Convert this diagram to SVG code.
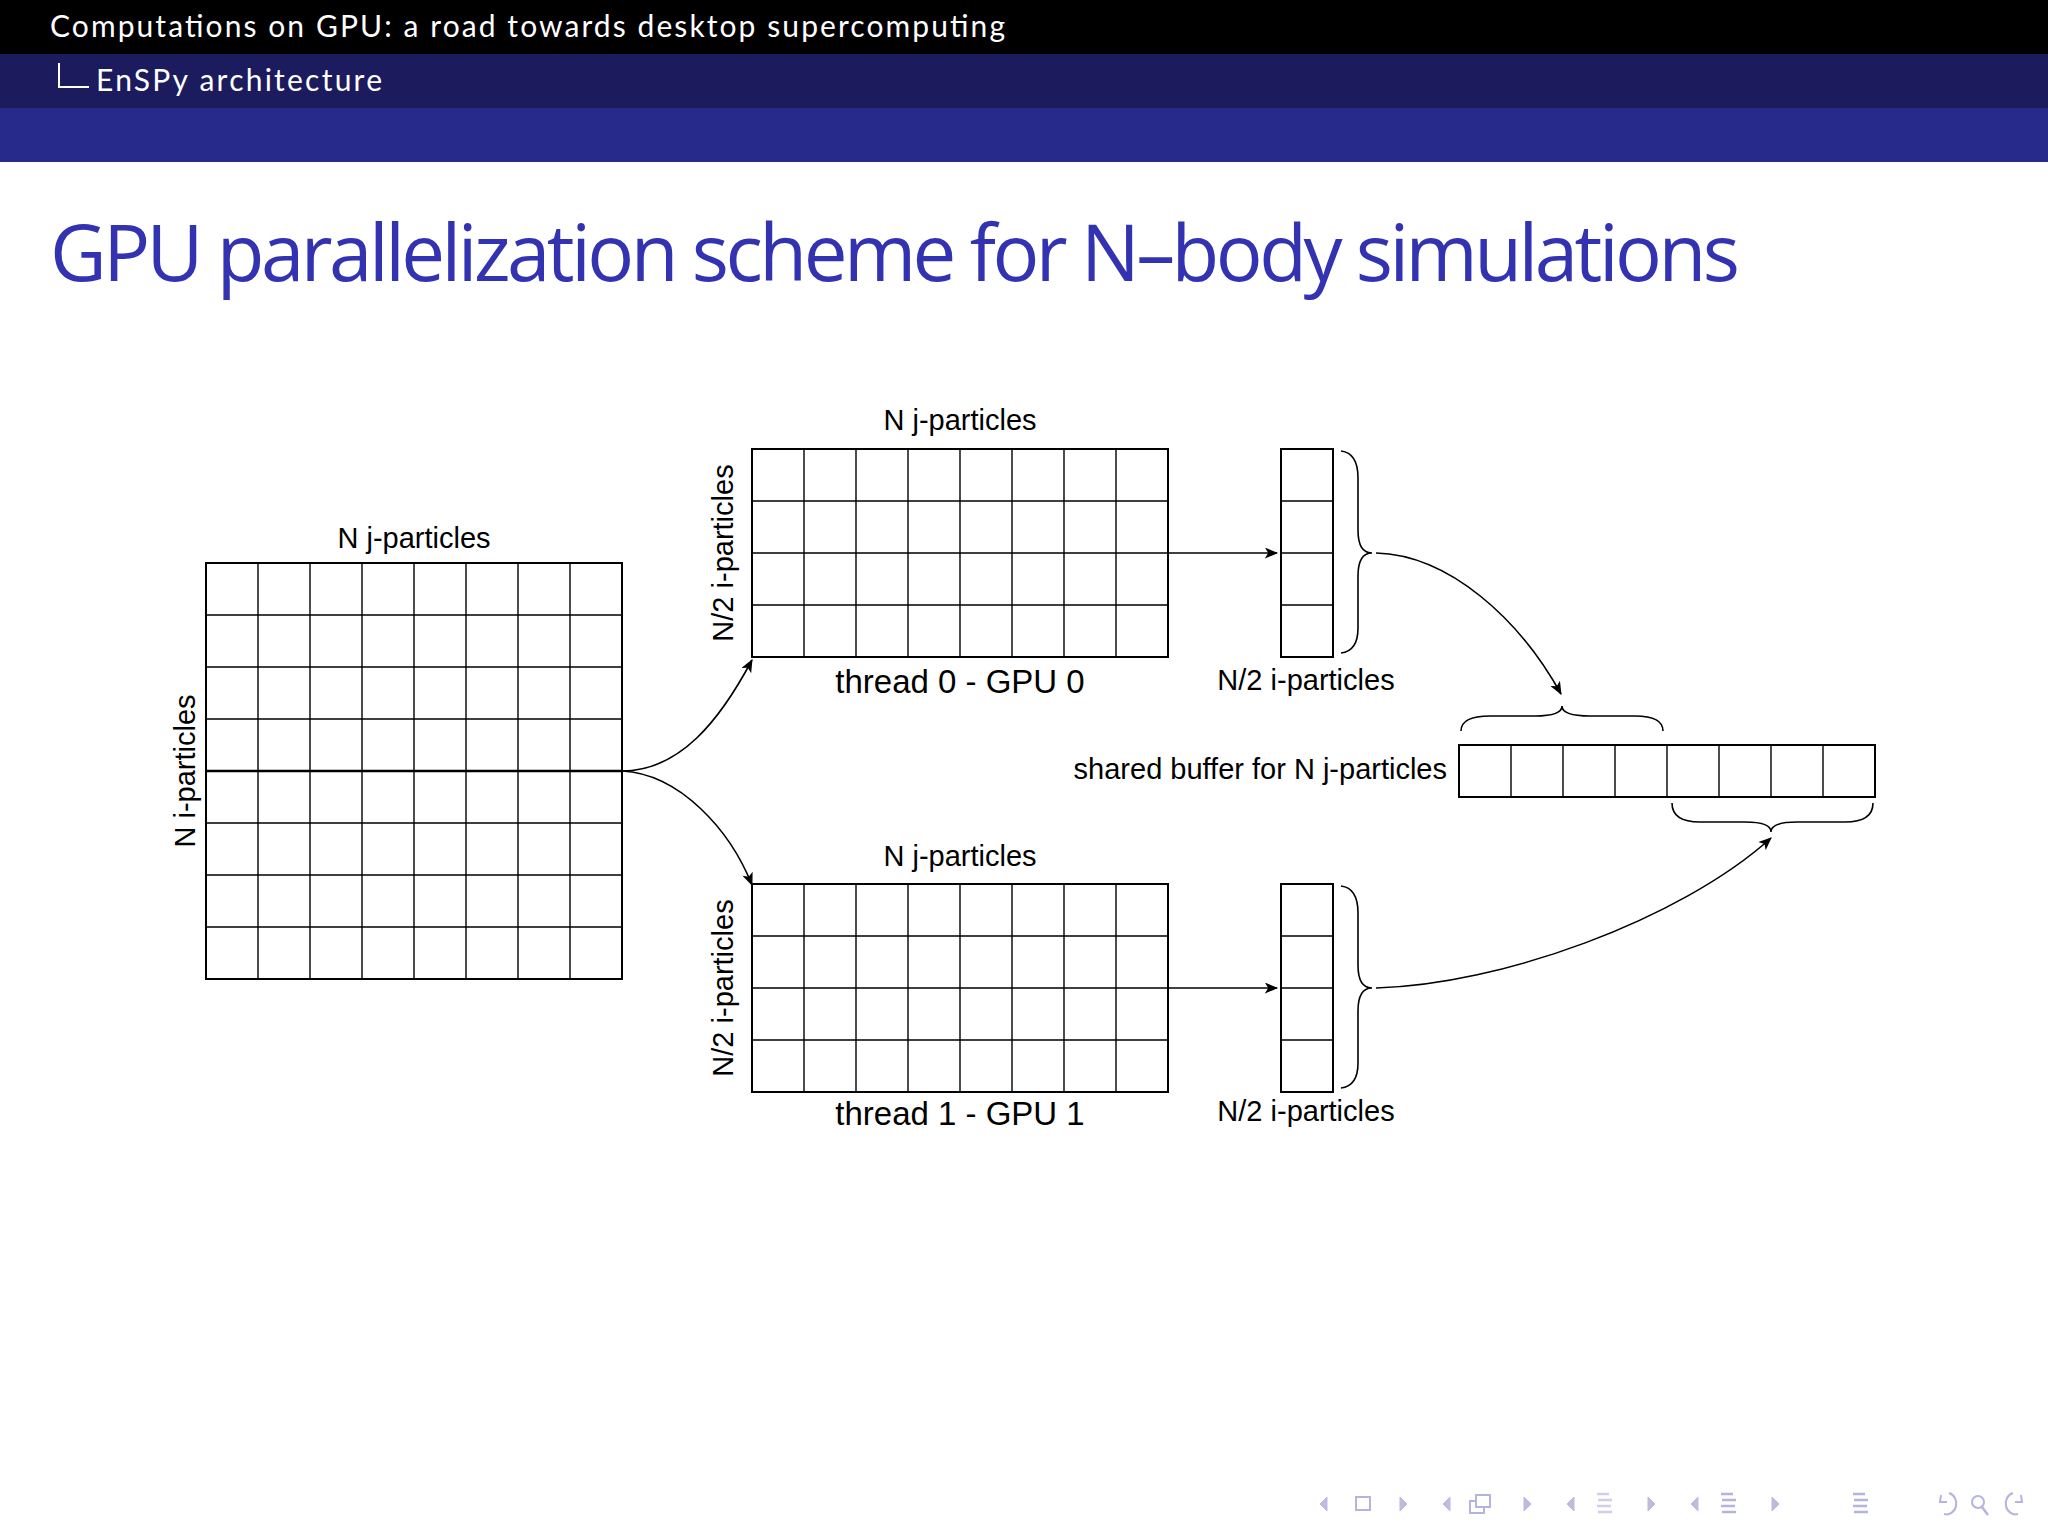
<svg xmlns="http://www.w3.org/2000/svg" width="2048" height="1536" viewBox="0 0 2048 1536">
<defs>
<marker id="ah" viewBox="0 0 12 10" refX="11" refY="5" markerWidth="14" markerHeight="11" markerUnits="userSpaceOnUse" orient="auto"><path d="M0,0 L12,5 L0,10 L3,5 z" fill="#000"/></marker>
</defs>
<style>
.lbl{font-family:"Liberation Sans",Arial,sans-serif;font-size:29px;fill:#000}
.big{font-family:"Liberation Sans",Arial,sans-serif;font-size:33px;fill:#000}
.g{fill:none;stroke:#000;stroke-width:2}
.gl{fill:none;stroke:#000;stroke-width:1.4}
.c{fill:none;stroke:#000;stroke-width:1.6}
.br{fill:none;stroke:#000;stroke-width:1.6}
.nav{fill:#b3b0dc;stroke:#b3b0dc}
</style>
<rect width="2048" height="1536" fill="#fff"/>
<g id="header">
<rect x="0" y="0" width="2048" height="54" fill="#000"/>
<rect x="0" y="54" width="2048" height="54" fill="#1b1b5e"/>
<rect x="0" y="108" width="2048" height="54" fill="#272a8a"/>
<text x="50" y="37" font-family="Lato,'Open Sans',sans-serif" font-size="30" fill="#fff" textLength="955">Computations on GPU: a road towards desktop supercomputing</text>
<path d="M59,63 L59,87 L89,87" fill="none" stroke="#fff" stroke-width="2"/>
<text x="96" y="91" font-family="Lato,'Open Sans',sans-serif" font-size="30" fill="#fff" textLength="286">EnSPy architecture</text>
<text x="50" y="281" font-family="'Open Sans',Lato,sans-serif" font-size="78" fill="#3333b2" textLength="1690" lengthAdjust="spacing">GPU parallelization scheme for N–body simulations</text>
</g>
<g id="full-matrix">
<rect class="g" x="206" y="563" width="416" height="416"/>
<path class="gl" d="M258,563V979M310,563V979M362,563V979M414,563V979M466,563V979M518,563V979M570,563V979M206,615H622M206,667H622M206,719H622M206,823H622M206,875H622M206,927H622"/>
<line x1="206" y1="771" x2="622" y2="771" stroke="#000" stroke-width="2.6"/>
<text class="lbl" x="414" y="548" text-anchor="middle">N j-particles</text>
<text class="lbl" transform="translate(195,771) rotate(-90)" text-anchor="middle">N i-particles</text>
</g>
<g id="gpu0">
<rect class="g" x="752" y="449" width="416" height="208"/>
<path class="gl" d="M804,449V657M856,449V657M908,449V657M960,449V657M1012,449V657M1064,449V657M1116,449V657M752,501H1168M752,553H1168M752,605H1168"/>
<text class="lbl" x="960" y="430" text-anchor="middle">N j-particles</text>
<text class="lbl" transform="translate(733,553) rotate(-90)" text-anchor="middle">N/2 i-particles</text>
<text class="big" x="960" y="693" text-anchor="middle">thread 0 - GPU 0</text>
</g>
<g id="gpu1">
<rect class="g" x="752" y="884" width="416" height="208"/>
<path class="gl" d="M804,884V1092M856,884V1092M908,884V1092M960,884V1092M1012,884V1092M1064,884V1092M1116,884V1092M752,936H1168M752,988H1168M752,1040H1168"/>
<text class="lbl" x="960" y="866" text-anchor="middle">N j-particles</text>
<text class="lbl" transform="translate(733,988) rotate(-90)" text-anchor="middle">N/2 i-particles</text>
<text class="big" x="960" y="1125" text-anchor="middle">thread 1 - GPU 1</text>
</g>
<g id="col0">
<rect class="g" x="1281" y="449" width="52" height="208"/>
<path class="gl" d="M1281,501H1333M1281,553H1333M1281,605H1333"/>
<path class="br" d="M1341,451 Q1358,453 1358,478 L1358,530 Q1358,553 1372,553 Q1358,553 1358,576 L1358,628 Q1358,651 1341,653"/>
<text class="lbl" x="1306" y="690" text-anchor="middle">N/2 i-particles</text>
</g>
<g id="col1">
<rect class="g" x="1281" y="884" width="52" height="208"/>
<path class="gl" d="M1281,936H1333M1281,988H1333M1281,1040H1333"/>
<path class="br" d="M1341,886 Q1358,888 1358,913 L1358,965 Q1358,988 1372,988 Q1358,988 1358,1011 L1358,1063 Q1358,1086 1341,1088"/>
<text class="lbl" x="1306" y="1121" text-anchor="middle">N/2 i-particles</text>
</g>
<g id="buffer">
<rect class="g" x="1459" y="745" width="416" height="52"/>
<path class="gl" d="M1511,745V797M1563,745V797M1615,745V797M1667,745V797M1719,745V797M1771,745V797M1823,745V797"/>
<text class="lbl" x="1447" y="779" text-anchor="end">shared buffer for N j-particles</text>
<path class="br" d="M1461,731 Q1461,716 1490,716 L1535,716 Q1562,716 1562,706 Q1562,716 1590,716 L1635,716 Q1663,716 1663,731"/>
<path class="br" d="M1672,803 Q1672,822 1700,822 L1745,822 Q1771,822 1771,832 Q1771,822 1797,822 L1845,822 Q1873,822 1873,803"/>
</g>
<g id="connectors">
<path class="c" d="M622,771 C680,771 720,720 752,660" marker-end="url(#ah)"/>
<path class="c" d="M622,771 C680,774 730,830 752,885" marker-end="url(#ah)"/>
<path class="c" d="M1168,553 L1277,553" marker-end="url(#ah)"/>
<path class="c" d="M1168,988 L1277,988" marker-end="url(#ah)"/>
<path class="c" d="M1376,553 C1450,555 1520,620 1561,694" marker-end="url(#ah)"/>
<path class="c" d="M1376,988 C1500,985 1680,920 1771,838" marker-end="url(#ah)"/>
</g>
<g id="nav" opacity="0.85">
<path class="nav" d="M1327,1497 L1320,1504 L1327,1511 z"/><rect x="1356" y="1497" width="14" height="13" fill="none" stroke="#a9a6da" stroke-width="2"/><path class="nav" d="M1400,1497 L1407,1504 L1400,1511 z"/>
<path class="nav" d="M1450,1497 L1443,1504 L1450,1511 z"/><rect x="1470" y="1501" width="14" height="12" fill="#fff" stroke="#a9a6da" stroke-width="2"/><rect x="1476" y="1495" width="14" height="12" fill="#fff" stroke="#a9a6da" stroke-width="2"/><path class="nav" d="M1524,1497 L1531,1504 L1524,1511 z"/>
<path class="nav" d="M1574,1497 L1567,1504 L1574,1511 z"/><path d="M1597,1494h12M1598,1500h14M1597,1506h14M1598,1512h14" stroke="#c8c6e8" stroke-width="2.5"/><path class="nav" d="M1648,1497 L1655,1504 L1648,1511 z"/>
<path class="nav" d="M1698,1497 L1691,1504 L1698,1511 z"/><path d="M1721,1494h12M1722,1500h14M1721,1506h14M1722,1512h14" stroke="#a9a6da" stroke-width="2.5"/><path class="nav" d="M1772,1497 L1779,1504 L1772,1511 z"/>
<path d="M1853,1494h12M1854,1500h14M1853,1506h14M1854,1512h14" stroke="#a9a6da" stroke-width="2.5"/>
<path d="M1949,1493 A9,10 0 1 1 1944,1514 M1941,1495 L1940,1502 L1947,1502" fill="none" stroke="#a9a6da" stroke-width="2"/>
<circle cx="1978" cy="1502" r="6" fill="none" stroke="#a9a6da" stroke-width="2"/><path d="M1982,1507 L1988,1515" stroke="#a9a6da" stroke-width="2.5"/>
<path d="M2013,1493 A9,10 0 1 0 2018,1514 M2021,1495 L2022,1502 L2015,1502" fill="none" stroke="#a9a6da" stroke-width="2"/>
</g>
</svg>
